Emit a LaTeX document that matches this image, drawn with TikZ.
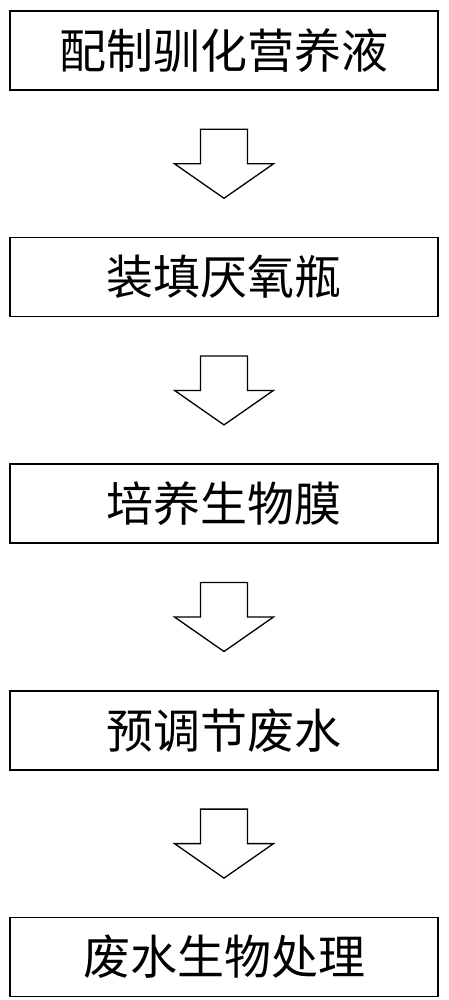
\documentclass[tikz,border=0pt]{standalone}
\usepackage{fontspec}
\usepackage{tikz}
\usetikzlibrary{
  positioning,
  calc
}
\newfontfamily\cjk{Noto Sans CJK SC}
% hollow block arrow half way between two steps
\newcommand{\blockarrow}[2]{%
  \coordinate (mid) at ($(#1.south)!0.5!(#2.north)$);
  \draw[hollowarrow] ($(mid)+(-23.5,34.5)$) -- ($(mid)+(23.5,34.5)$)
    -- ($(mid)+(23.5,0)$) -- ($(mid)+(49.5,0)$) -- ($(mid)+(0,-34.5)$)
    -- ($(mid)+(-49.5,0)$) -- ($(mid)+(-23.5,0)$) -- cycle;}

\begin{document}
\begin{tikzpicture}[
  x=1pt, y=1pt,
  stepbox/.style={draw, line width=1.6pt, minimum width=428pt,
                  minimum height=79pt, inner sep=0pt,
                  font=\cjk\fontsize{47}{47}\selectfont},
  hollowarrow/.style={draw, line width=1.3pt, fill=white, line join=miter},
  node distance=146pt
]
  \useasboundingbox (0,0) rectangle (448,-1000);

  % process steps
  \node[stepbox] at (224,-50.5) (medium) {配制驯化营养液};
  \node[stepbox, below=of medium] (filling) {装填厌氧瓶};
  \node[stepbox, below=of filling] (biofilm) {培养生物膜};
  \node[stepbox, below=of biofilm] (pretreat) {预调节废水};
  \node[stepbox, below=of pretreat] (treatment) {废水生物处理};

  % arrows between the steps
  \blockarrow{medium}{filling}
  \blockarrow{filling}{biofilm}
  \blockarrow{biofilm}{pretreat}
  \blockarrow{pretreat}{treatment}

\end{tikzpicture}
\end{document}
